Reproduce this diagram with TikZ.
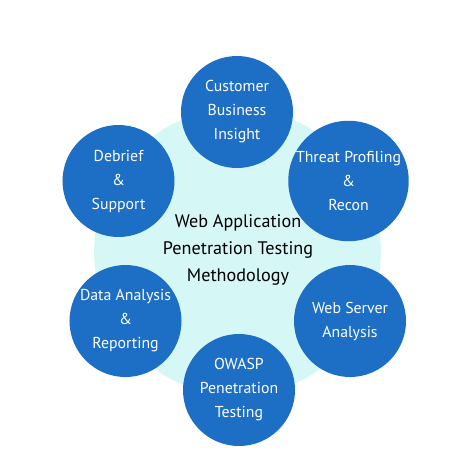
\documentclass[tikz,border=0pt]{standalone}
\usepackage{fontspec}
\setmainfont{PT Sans}
\definecolor{stepblue}{HTML}{1D6EC5}
\definecolor{hubcyan}{HTML}{D5F8F6}
\tikzset{
    phase/.style={circle, fill=stepblue, minimum size=3.36cm, inner sep=0pt,
        text=white, align=center, font=\fontsize{13.5}{20.5}\selectfont},
    hub/.style={circle, fill=hubcyan, minimum size=8.6cm, inner sep=0pt}
}

\begin{document}
\begin{tikzpicture}[x=0.03cm, y=-0.03cm]
                \useasboundingbox (0, 0) rectangle (474, 474);
                \node[hub] (hub) at (237.5, 252) {};
                \node[align=center, font=\fontsize{15.5}{23}\selectfont] (title) at (238, 250)
                    {Web Application\\Penetration Testing\\Methodology};

                \node[phase] (insight) at (237, 112) {Customer\\Business\\Insight};
                \node[phase] (threat) at (348.5, 181) {Threat Profiling\\\&\\Recon};
                \node[phase] (server) at (350, 321) {Web Server\\Analysis};
                \node[phase] (owasp) at (239, 390) {OWASP\\Penetration\\Testing};
                \node[phase] (report) at (125.5, 321) {Data Analysis\\\&\\Reporting};
                \node[phase] (debrief) at (118.5, 181) {Debrief\\\&\\Support};
            \end{tikzpicture}
\end{document}
